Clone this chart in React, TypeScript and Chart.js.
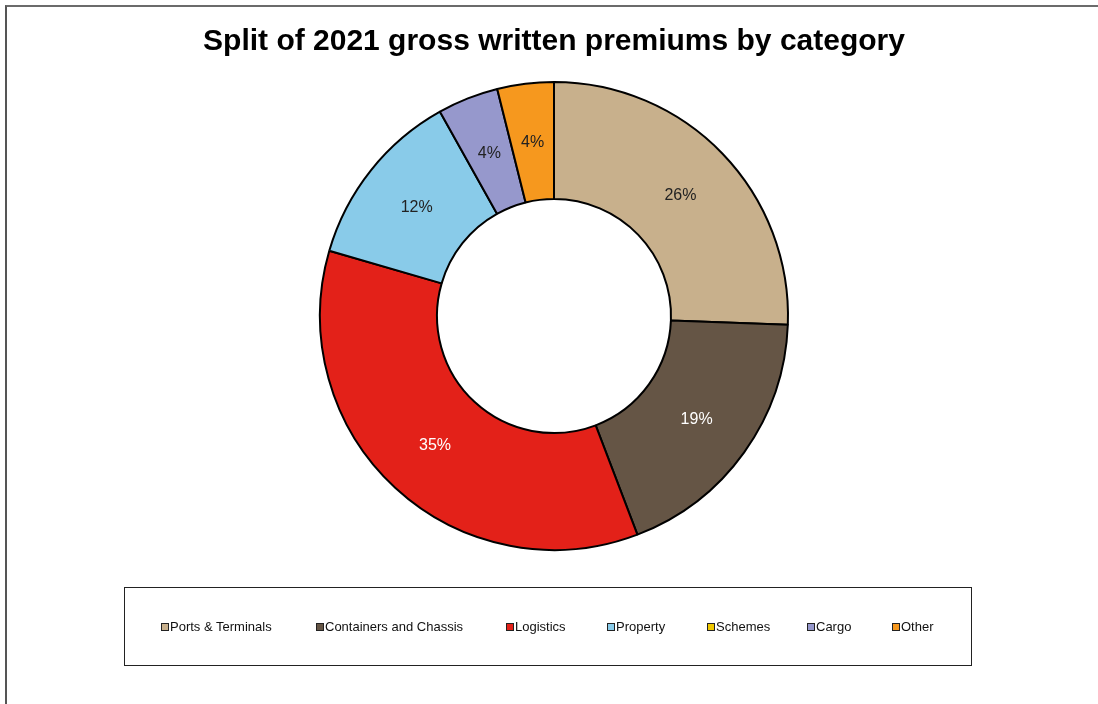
import React, { useEffect, useRef } from "react";
import { Chart, registerables } from "chart.js";

Chart.register(...registerables);

const categories = [
  "Ports & Terminals",
  "Containers and Chassis",
  "Logistics",
  "Property",
  "Schemes",
  "Cargo",
  "Other",
];
const shares = [25.6, 18.6, 35.3, 12.4, 0, 4.2, 3.9];
const sliceColors = [
  "#C8B08C",
  "#655545",
  "#E32119",
  "#89CBE9",
  "#F0C800",
  "#9698CC",
  "#F6981E",
];
const labelColors = ["#222222", "#FFFFFF", "#FFFFFF", "#222222", "#222222", "#222222", "#222222"];
const legendX = [161, 316, 506, 607, 707, 807, 892];
const titleText = "Split of 2021 gross written premiums by category";

const FONT = "Arial, 'Liberation Sans', sans-serif";

const sliceLabels = {
  id: "sliceLabels",
  afterDatasetsDraw(chart: any) {
    const ctx = chart.ctx;
    const meta = chart.getDatasetMeta(0);
    const data = chart.data.datasets[0].data as number[];
    const total = data.reduce((a: number, b: number) => a + b, 0);
    ctx.save();
    ctx.font = `16px ${FONT}`;
    ctx.textAlign = "center";
    ctx.textBaseline = "middle";
    meta.data.forEach((arc: any, i: number) => {
      const v = data[i];
      if (!v) return;
      const p = arc.tooltipPosition();
      ctx.fillStyle = labelColors[i];
      ctx.fillText(`${Math.round((v / total) * 100)}%`, p.x, p.y + 1);
    });
    ctx.restore();
  },
};

export default function App() {
  const ref = useRef<HTMLCanvasElement>(null);
  useEffect(() => {
    if (!ref.current) return;
    const chart = new Chart(ref.current, {
      type: "doughnut",
      data: {
        labels: categories,
        datasets: [
          {
            data: shares,
            backgroundColor: sliceColors,
            borderColor: "#000000",
            borderWidth: 2,
            borderAlign: "center",
          },
        ],
      },
      options: {
        animation: false,
        responsive: false,
        maintainAspectRatio: false,
        cutout: "50%",
        layout: { padding: { left: 10, right: 0, top: 0, bottom: 153 } },
        plugins: {
          legend: { display: false },
          tooltip: { enabled: false },
          title: {
            display: true,
            text: titleText,
            color: "#000000",
            font: { family: FONT, size: 30, weight: "bold", lineHeight: 1.2 },
            padding: { top: 24, bottom: 21 },
          },
        },
      },
      plugins: [sliceLabels],
    });
    return () => chart.destroy();
  }, []);

  return (
    <div
      style={{
        position: "absolute",
        left: 0,
        top: 0,
        width: 1098,
        height: 704,
        background: "#ffffff",
        overflow: "hidden",
      }}
    >
      <canvas ref={ref} width={1098} height={704} style={{ position: "absolute", left: 0, top: 0 }} />
      <div
        style={{
          position: "absolute",
          left: 5,
          top: 5,
          width: 1093,
          height: 699,
          borderTop: "2px solid #6b6b6b",
          borderLeft: "2px solid #555555",
          boxSizing: "border-box",
          pointerEvents: "none",
        }}
      />
      <div
        style={{
          position: "absolute",
          left: 124,
          top: 587,
          width: 848,
          height: 79,
          border: "1px solid #222222",
          boxSizing: "border-box",
          background: "transparent",
        }}
      >
        {categories.map((c, i) => (
          <div
            key={c}
            style={{
              position: "absolute",
              left: legendX[i] - 125,
              top: 32,
              display: "flex",
              alignItems: "center",
              whiteSpace: "nowrap",
              fontFamily: FONT,
              fontSize: 13,
              color: "#111111",
              lineHeight: "14px",
            }}
          >
            <span
              style={{
                display: "inline-block",
                width: 8,
                height: 8,
                boxSizing: "border-box",
                border: "1px solid #222222",
                background: sliceColors[i],
                marginRight: 1,
              }}
            />
            <span>{c}</span>
          </div>
        ))}
      </div>
    </div>
  );
}
